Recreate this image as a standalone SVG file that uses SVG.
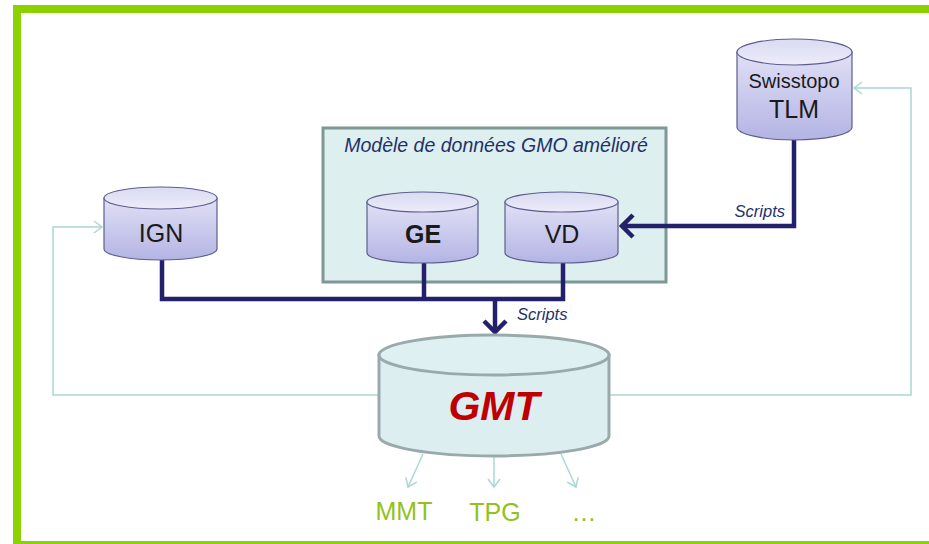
<svg xmlns="http://www.w3.org/2000/svg" width="929" height="544" viewBox="0 0 929 544">
<style>
.db-body{fill:url(#gBody);stroke:#5E5E8E;stroke-width:1.2}
.db-top{fill:url(#gTop);stroke:#5E5E8E;stroke-width:1.2}
.gmt-body{fill:#DCEEF0;stroke:#9AAAAA;stroke-width:3}
.gmt-top{fill:#DFF0F2;stroke:#9AAAAA;stroke-width:3}
.navy{fill:none;stroke:#24216C;stroke-width:4.5;stroke-linejoin:miter}
.teal{fill:none;stroke:#A9D8D6;stroke-width:1.5}
.lbl{font-family:"Liberation Sans",Arial,sans-serif;fill:#1A1A1A;text-anchor:middle}
.it{font-family:"Liberation Sans",Arial,sans-serif;font-style:italic;fill:#25306A}
.out{font-family:"Liberation Sans",Arial,sans-serif;fill:#93C11E;text-anchor:middle;font-size:25px}
</style>
<defs>
<linearGradient id="gBody" x1="0" y1="0" x2="0" y2="1">
<stop offset="0" stop-color="#E0E0F6"/>
<stop offset="1" stop-color="#B4B4E4"/>
</linearGradient>
<linearGradient id="gTop" x1="0" y1="0" x2="0" y2="1">
<stop offset="0" stop-color="#DADAF2"/>
<stop offset="1" stop-color="#ECECFA"/>
</linearGradient>
<marker id="mNavy" markerUnits="userSpaceOnUse" viewBox="-16 -12 20 24" markerWidth="20" markerHeight="24" refX="0" refY="0" orient="auto" overflow="visible">
<path d="M-11,-11 L0,0 L-11,11" fill="none" stroke="#24216C" stroke-width="4.5"/>
</marker>
<marker id="mTeal" markerUnits="userSpaceOnUse" viewBox="-12 -8 14 16" markerWidth="14" markerHeight="16" refX="0" refY="0" orient="auto" overflow="visible">
<path d="M-8,-6 L0,0 L-8,6" fill="none" stroke="#A9D8D6" stroke-width="1.5"/>
</marker>
</defs>
<rect width="929" height="544" fill="#FFFFFF"/>
<g id="frame" fill="#8BD200">
<rect x="13" y="5" width="916" height="8"/>
<rect x="13" y="5" width="8" height="539"/>
<rect x="13" y="541" width="916" height="3"/>
</g>
<g id="model-box">
<rect x="323" y="128" width="343" height="154" fill="#DDEFEF" stroke="#7E9896" stroke-width="3"/>
<text class="it" x="496" y="152" font-size="19.5" text-anchor="middle">Modèle de données GMO amélioré</text>
</g>
<g id="connectors">
<path class="teal" d="M379,395 H53 V227 H102" marker-end="url(#mTeal)"/>
<path class="teal" d="M609,395 H911 V88 H854" marker-end="url(#mTeal)"/>
<path class="teal" d="M423,454 L408,487" marker-end="url(#mTeal)"/>
<path class="teal" d="M494,457 V487" marker-end="url(#mTeal)"/>
<path class="teal" d="M561,454 L576,487" marker-end="url(#mTeal)"/>
<path class="navy" d="M794,139 V226 H622" marker-end="url(#mNavy)"/>
<path class="navy" d="M162,260 V299 H563 V263"/>
<path class="navy" d="M424,263 V299"/>
<path class="navy" d="M495,299 V332" marker-end="url(#mNavy)"/>
<text class="it" x="785" y="217" font-size="16.5" text-anchor="end">Scripts</text>
<text class="it" x="517" y="320" font-size="16.5">Scripts</text>
</g>
<g id="tlm">
<path class="db-body" d="M737,52 V127 A57.5,13 0 0 0 852,127 V52 Z"/>
<ellipse class="db-top" cx="794.5" cy="52" rx="57.5" ry="13"/>
<text class="lbl" x="794" y="88" font-size="20">Swisstopo</text>
<text class="lbl" x="794" y="118" font-size="25">TLM</text>
</g>
<g id="ign">
<path class="db-body" d="M104,198 V249 A56.5,11 0 0 0 217,249 V198 Z"/>
<ellipse class="db-top" cx="160.5" cy="198" rx="56.5" ry="11"/>
<text class="lbl" x="161" y="242" font-size="25">IGN</text>
</g>
<g id="ge">
<path class="db-body" d="M367,202 V253 A55.5,10 0 0 0 478,253 V202 Z"/>
<ellipse class="db-top" cx="422.5" cy="202" rx="55.5" ry="10"/>
<text class="lbl" x="423" y="243" font-size="25" font-weight="bold">GE</text>
</g>
<g id="vd">
<path class="db-body" d="M505,202 V253 A56.5,10 0 0 0 618,253 V202 Z"/>
<ellipse class="db-top" cx="561.5" cy="202" rx="56.5" ry="10"/>
<text class="lbl" x="562" y="243" font-size="25">VD</text>
</g>
<g id="gmt">
<path class="gmt-body" d="M379,355 V436 A115,20 0 0 0 609,436 V355 Z"/>
<ellipse class="gmt-top" cx="494" cy="355" rx="115" ry="20"/>
<text x="494" y="420" font-family="'Liberation Sans',Arial,sans-serif" font-size="41" font-weight="bold" font-style="italic" fill="#C00000" text-anchor="middle">GMT</text>
</g>
<g id="outputs">
<text class="out" x="404" y="520">MMT</text>
<text class="out" x="495" y="521">TPG</text>
<text class="out" x="584" y="521" font-size="18">…</text>
</g>
</svg>
